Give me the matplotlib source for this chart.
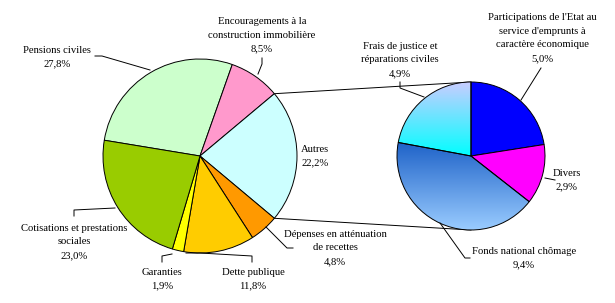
import matplotlib.pyplot as plt
import numpy as np
from matplotlib.colors import LinearSegmentedColormap

# Main pie (left)
main_labels = ["Pensions civiles", "Encouragements à la\nconstruction immobilière", "Autres",
               "Dépenses en atténuation\nde recettes", "Dette publique", "Garanties",
               "Cotisations et prestations\nsociales"]
main_values = [27.8, 8.5, 22.2, 4.8, 11.8, 1.9, 23.0]
main_colors = ["#CCFFCC", "#FF99CC", "#CCFFFF", "#FF9900", "#FFCC00", "#FFFF00", "#99CC00"]

# Detail of "Autres" (right)
sub_labels = ["Participations de l'Etat au\nservice d'emprunts à\ncaractère économique", "Divers",
              "Fonds national chômage", "Frais de justice et\nréparations civiles"]
sub_values = [5.0, 2.9, 9.4, 4.9]
sub_colors = ["#0000FF", "#FF00FF", "none", "none"]
# gradient fills (top colour, bottom colour) for the two shaded slices
sub_gradients = {2: ("#1E62C8", "#9ACCFF"), 3: ("#CCCCFF", "#00FFFF")}

W, H = 615, 303


def P(x, y):
    # pixel coordinates (top-left origin) to data coordinates
    return x, H - y


def pct(v):
    return f"{v:.1f}".replace(".", ",") + "%"


plt.rcParams["font.family"] = ["Liberation Serif", "DejaVu Serif"]
fig = plt.figure(figsize=(6.15, 3.03), dpi=100)
ax = fig.add_axes([0, 0, 1, 1])

# left pie, the "Autres" slice centred on the right-hand side
idx = main_labels.index("Autres")
start = (sum(main_values[:idx]) + main_values[idx] / 2) * 3.6
c1, r1 = P(200, 156), 97
wedges1, _ = ax.pie(main_values, colors=main_colors, startangle=start, counterclock=False,
                    center=c1, radius=r1, wedgeprops=dict(edgecolor="black", linewidth=0.7))

c2, r2 = P(471, 156), 74
wedges2, _ = ax.pie(sub_values, colors=sub_colors, startangle=90, counterclock=False,
                    center=c2, radius=r2, wedgeprops=dict(edgecolor="black", linewidth=0.7))

for w in wedges1 + wedges2:
    w.set_zorder(3)

grad = np.linspace(0, 1, 256).reshape(-1, 1)
for i, (top, bottom) in sub_gradients.items():
    w = wedges2[i]
    ext = w.get_path().get_extents()
    cmap = LinearSegmentedColormap.from_list("g", [bottom, top])
    im = ax.imshow(grad, extent=[ext.x0, ext.x1, ext.y0, ext.y1], origin="lower",
                   cmap=cmap, aspect="auto", zorder=2)
    im.set_clip_path(w)

# connector lines between the Autres slice and the detail pie
wa = wedges1[idx]
for ang, side in [(wa.theta2, 1), (wa.theta1, -1)]:
    x0 = c1[0] + r1 * np.cos(np.radians(ang))
    y0 = c1[1] + r1 * np.sin(np.radians(ang))
    ax.plot([x0, c2[0]], [y0, c2[1] + side * r2], color="black", lw=0.7, zorder=1)

# labels: (text lines centre, leader line points) in pixels
main_pos = [
    ((57, 57), [(95, 56), (102, 56), (150, 70)]),
    ((262, 35), [(262, 58), (262, 64), (258, 74)]),
    ((315, 156), []),
    ((335, 248), [(293, 248), (287, 248), (266, 227)]),
    ((253, 279), [(252, 262), (252, 256), (200, 253), (186, 253)]),
    ((162, 279), [(162, 262), (162, 256), (172, 254)]),
    ((74, 242), [(74, 216), (74, 210), (115, 208)]),
]
sub_pos = [
    ((542, 38), [(541, 68), (521, 100)]),
    ((567, 180), [(555, 180), (545, 178)]),
    ((524, 258), [(470, 258), (465, 258), (440, 223)]),
    ((400, 60), [(400, 82), (400, 88), (424, 97)]),
]

for labels, values, positions in [(main_labels, main_values, main_pos),
                                  (sub_labels, sub_values, sub_pos)]:
    for lab, v, (tp, line) in zip(labels, values, positions):
        ax.text(*P(*tp), lab + "\n" + pct(v), ha="center", va="center",
                fontsize=7.7, linespacing=1.7, zorder=5)
        if line:
            xs, ys = zip(*[P(x, y) for x, y in line])
            ax.plot(xs, ys, color="black", lw=0.7, zorder=4)

ax.set_xlim(0, W)
ax.set_ylim(0, H)
ax.set_aspect("equal")
ax.axis("off")

fig.savefig("out.png", dpi=100, facecolor="white")
